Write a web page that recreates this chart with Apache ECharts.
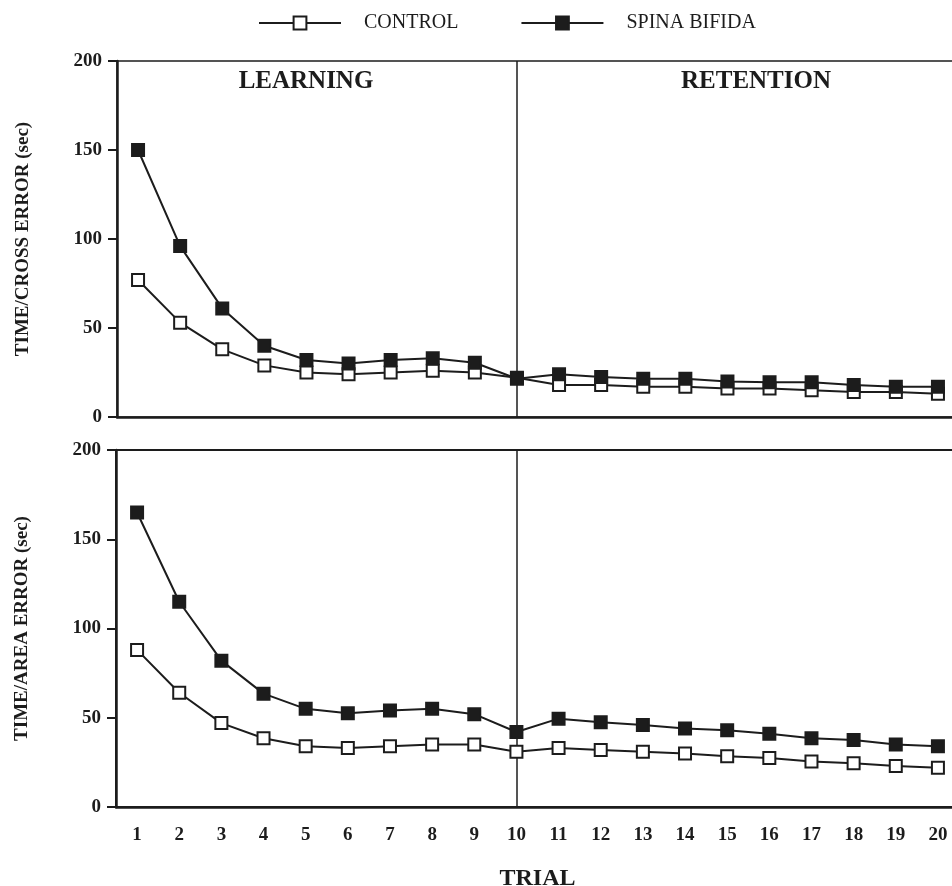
<!DOCTYPE html>
<html>
<head>
<meta charset="utf-8">
<script src="https://cdn.jsdelivr.net/npm/echarts@6/dist/echarts.min.js"></script>
<style>html,body{margin:0;padding:0;background:#fff;}#c{width:952px;height:886px;}</style>
</head>
<body>
<div id="c"></div>
<script>
const trials = ['1','2','3','4','5','6','7','8','9','10','11','12','13','14','15','16','17','18','19','20'];
const yTicks = [0, 50, 100, 150, 200];
const crossControl = [77, 53, 38, 29, 25, 24, 25, 26, 25, 22, 18, 18, 17, 17, 16, 16, 15, 14, 14, 13];
const crossSpina = [150, 96, 61, 40, 32, 30, 32, 33, 30.5, 21.5, 24, 22.5, 21.5, 21.5, 20, 19.5, 19.5, 18, 17, 17];
const areaControl = [88, 64, 47, 38.5, 34, 33, 34, 35, 35, 31, 33, 32, 31, 30, 28.5, 27.5, 25.5, 24.5, 23, 22];
const areaSpina = [165, 115, 82, 63.5, 55, 52.5, 54, 55, 52, 42, 49.5, 47.5, 46, 44, 43, 41, 38.5, 37.5, 35, 34];
const seriesNames = ['CONTROL', 'SPINA BIFIDA'];
const phaseNames = ['LEARNING', 'RETENTION'];
const yNames = ['TIME/CROSS ERROR (sec)', 'TIME/AREA ERROR (sec)'];
const xName = 'TRIAL';
const splitTrial = trials[9];

const INK = '#1c1c1c';
const FONT = '"Liberation Serif", "DejaVu Serif", serif';

function xAxis(idx, showLabels) {
  return {
    type: 'category', gridIndex: idx, data: trials, boundaryGap: true,
    axisLine: {lineStyle: {color: INK, width: 2.5}},
    axisTick: {alignWithLabel: true, length: 8, lineStyle: {color: INK, width: 2}},
    axisLabel: {show: showLabels, color: INK, fontFamily: FONT, fontWeight: 'bold', fontSize: 19, margin: 19},
    name: showLabels ? xName : '', nameLocation: 'middle', nameGap: 60,
    nameTextStyle: {color: INK, fontFamily: FONT, fontWeight: 'bold', fontSize: 24}
  };
}
function yAxis(idx) {
  return {
    type: 'value', gridIndex: idx, min: yTicks[0], max: yTicks[yTicks.length - 1], interval: yTicks[1] - yTicks[0],
    splitLine: {show: false},
    axisLine: {show: true, lineStyle: {color: INK, width: 2.5}},
    axisTick: {show: true, length: 9, lineStyle: {color: INK, width: 2}},
    axisLabel: {color: INK, fontFamily: FONT, fontWeight: 'bold', fontSize: 19, margin: 15},
    name: yNames[idx], nameLocation: 'middle', nameGap: 84, nameRotate: 90,
    nameTextStyle: {color: INK, fontFamily: FONT, fontWeight: 'bold', fontSize: 19}
  };
}
function lineSeries(name, data, idx, filled) {
  const s = {
    name: name, type: 'line', xAxisIndex: idx, yAxisIndex: idx, data: data,
    symbol: 'rect', symbolSize: 12, showSymbol: true,
    lineStyle: {color: INK, width: 2},
    itemStyle: {color: filled ? INK : '#fff', borderColor: INK, borderWidth: 2},
    z: filled ? 3 : 2
  };
  if (filled) {
    s.markLine = {
      silent: true, symbol: ['none', 'none'], label: {show: false},
      lineStyle: {color: INK, width: 1.5, type: 'solid'},
      data: [{xAxis: splitTrial}], z: 1
    };
  }
  return s;
}

const chart = echarts.init(document.getElementById('c'), null, {renderer: 'canvas'});
chart.setOption({
  backgroundColor: '#fff',
  animation: false,
  legend: {
    data: seriesNames, left: 258, top: 13, padding: 0, itemWidth: 82, itemHeight: 16, itemGap: 62,
    textStyle: {color: INK, fontFamily: FONT, fontSize: 20, padding: [0, 0, 0, 18]}
  },
  grid: [
    {left: 117, right: -7, top: 61, bottom: 469, show: true, borderColor: INK, borderWidth: 1.5, containLabel: false, outerBoundsMode: 'none'},
    {left: 116, right: -7, top: 450, bottom: 79, show: true, borderColor: INK, borderWidth: 2, containLabel: false, outerBoundsMode: 'none'}
  ],
  xAxis: [xAxis(0, false), xAxis(1, true)],
  yAxis: [yAxis(0), yAxis(1)],
  graphic: [
    {type: 'text', x: 306, y: 82, style: {text: phaseNames[0], font: 'bold 25px ' + FONT, fill: INK, textAlign: 'center', textVerticalAlign: 'middle'}},
    {type: 'text', x: 756, y: 82, style: {text: phaseNames[1], font: 'bold 25px ' + FONT, fill: INK, textAlign: 'center', textVerticalAlign: 'middle'}}
  ],
  series: [
    lineSeries(seriesNames[0], crossControl, 0, false),
    lineSeries(seriesNames[1], crossSpina, 0, true),
    lineSeries(seriesNames[0], areaControl, 1, false),
    lineSeries(seriesNames[1], areaSpina, 1, true)
  ]
});
</script>
</body>
</html>
